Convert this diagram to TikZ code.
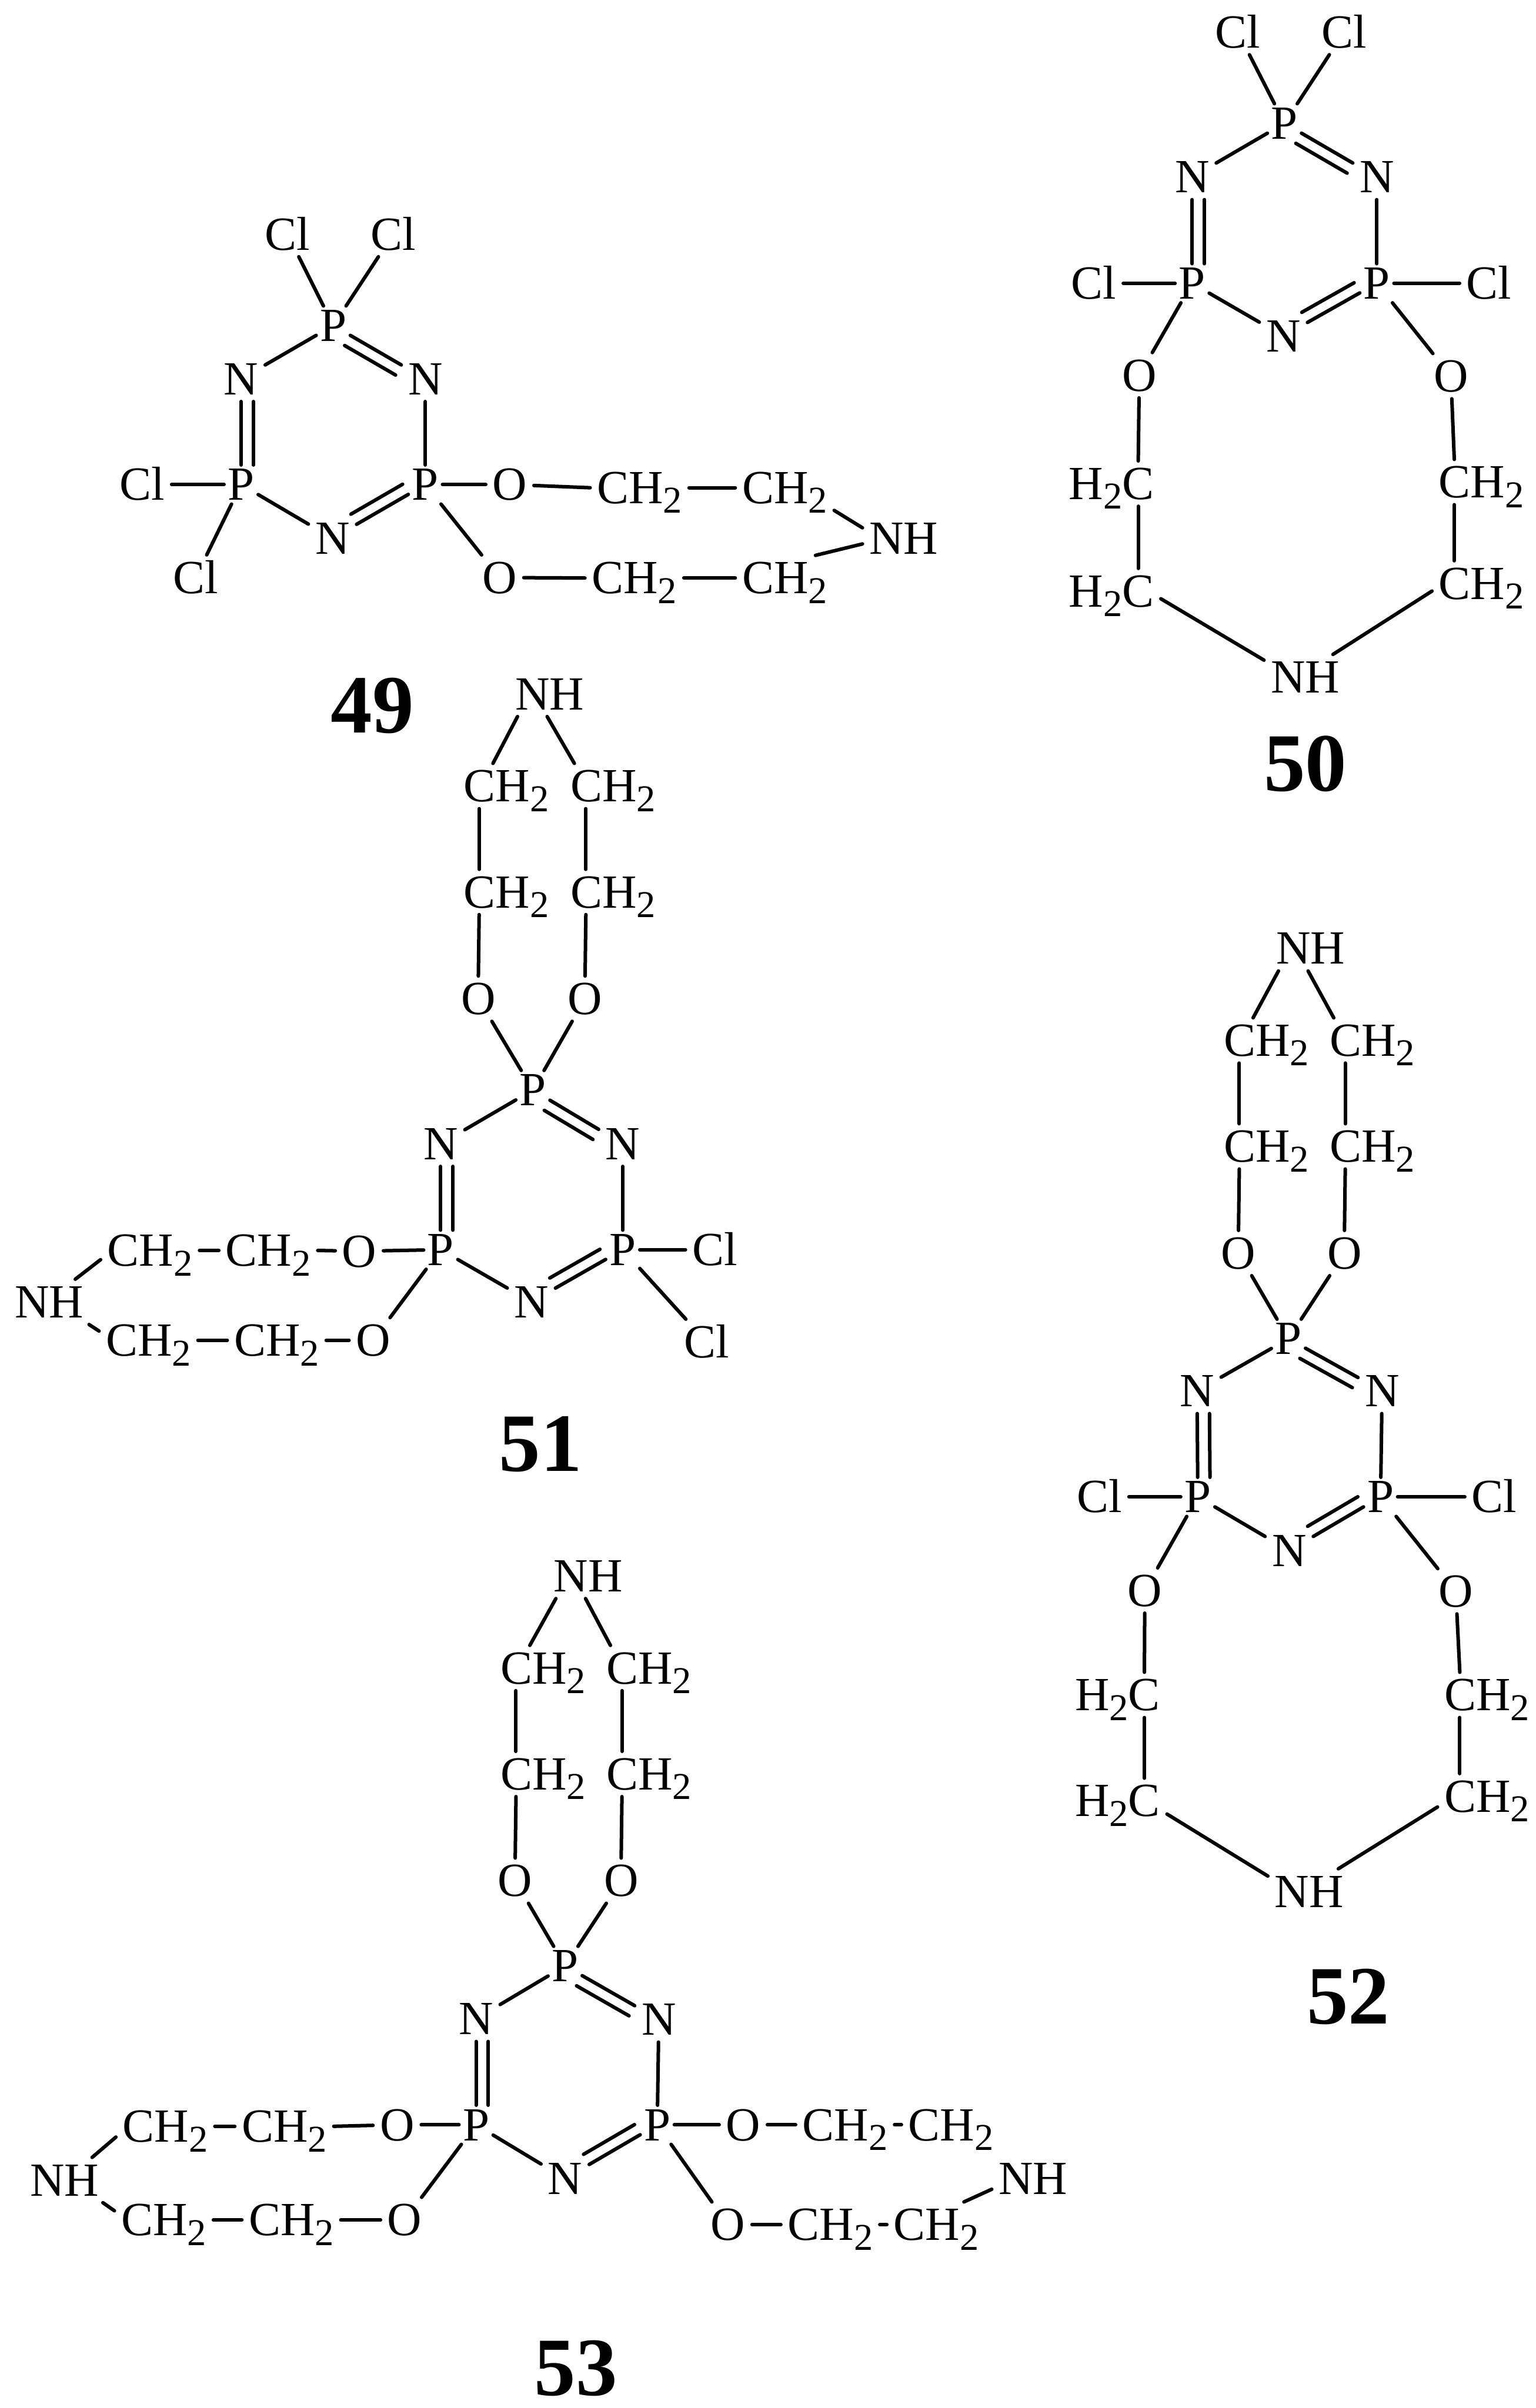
\documentclass[tikz,border=0pt]{standalone}
\usepackage{fontspec}
\setmainfont{Liberation Serif}
\newcommand\subtwo{\raisebox{-6.3pt}{\fontsize{24.7}{24.7}\selectfont 2}}
\newcommand\atmfont{\fontsize{31}{31}\selectfont}
\tikzset{
  atm/.style={inner sep=0pt,outer sep=4.5pt,font=\atmfont,text height=20.5pt,text depth=0pt},
  ptm/.style={atm,outer sep=2.5pt},
  lab/.style={inner sep=0pt,font=\fontsize{54}{54}\selectfont\bfseries,text height=36.5pt,text depth=0pt},
  bond/.style={line width=2.3pt,line cap=round,black}
}
\newcommand\atm[4]{\node[atm] (#1) at (#2,#3) {#4};}
\newcommand\ptm[3]{\node[ptm] (#1) at (#2,#3) {P};}
\newcommand\chgrp[3]{\node[atm,anchor=west] (#1) at ({#2-4.5},#3) {CH\subtwo};}
\newcommand\hcgrp[3]{\node[atm,anchor=west] (#1) at ({#2-4.5},#3) {H\subtwo C};}
\newcommand\bnd[2]{\draw[bond] (#1) -- (#2);}
\newcommand\dbnd[4]{\draw[bond] (#1) -- (#2);\draw[bond,transform canvas={xshift=#3pt,yshift=#4pt}] (#1) -- (#2);}
% the phosphazene ring: P1 top, N1/N2 upper, P2/P3 lower, N3 bottom
\newcommand\ringbonds[1]{%
  \bnd{#1P1}{#1N1}
  \dbnd{#1P1}{#1N2}{-3.7}{-6.6}
  \dbnd{#1N1}{#1P2}{8}{0}
  \bnd{#1N2}{#1P3}
  \bnd{#1P2}{#1N3}
  \dbnd{#1N3}{#1P3}{-3.7}{6.6}
}
% the upright NH(CH2CH2O)2 loop on the top phosphorus
\newcommand\crownloop[5]{%
  \atm{#1H}{#2}{#3}{NH}
  \chgrp{#1u1}{#4}{#3+60}
  \chgrp{#1v1}{#5}{#3+60}
  \chgrp{#1u2}{#4}{#3+129}
  \chgrp{#1v2}{#5}{#3+129}
  \atm{#1Ou}{#4+9.5}{#3+198.5}{O}
  \atm{#1Ov}{#5+9.5}{#3+198.5}{O}
  \bnd{[xshift=-21pt]#1H.south}{[xshift=-8.7pt]#1u1.north}
  \bnd{[xshift=-1.7pt]#1H.south}{[xshift=-25.2pt]#1v1.north}
  \bnd{[xshift=-17.7pt]#1u1.south}{[xshift=-17.7pt]#1u2.north}
  \bnd{[xshift=-17.7pt]#1v1.south}{[xshift=-17.7pt]#1v2.north}
  \bnd{[xshift=-17.7pt]#1u2.south}{#1Ou.north}
  \bnd{[xshift=-17.7pt]#1v2.south}{#1Ov.north}
  \bnd{#1Ou}{#1P1}
  \bnd{#1Ov}{#1P1}
}
\begin{document}
\begin{tikzpicture}[x=1pt,y=-1pt]
\useasboundingbox (0,0) rectangle (1000,1568.5);
% ---------- 49
\ptm{aP1}{217}{212}\ptm{aP2}{157}{315.6}\ptm{aP3}{277}{315.6}
\atm{aN1}{157}{246.8}{N}\atm{aN2}{277}{246.8}{N}\atm{aN3}{216.5}{350.6}{N}
\ringbonds{a}
\atm{aCa}{187.2}{152.5}{Cl}\atm{aCb}{256.1}{152.5}{Cl}\atm{aCc}{92.6}{315.6}{Cl}\atm{aCd}{127.4}{376.2}{Cl}
\bnd{aCa}{aP1}\bnd{aCb}{aP1}\bnd{aCc}{aP2}\bnd{aP2}{aCd}
\atm{aO1}{332}{315.6}{O}\atm{aO2}{325.4}{376.2}{O}
\chgrp{aA1}{388.8}{317.7}\chgrp{aA2}{483.3}{317.7}
\chgrp{aB1}{385.4}{376.5}\chgrp{aB2}{483.3}{376.5}
\atm{aH}{588.5}{350.8}{NH}
\bnd{aP3}{aO1}\bnd{aP3}{aO2}
\bnd{aO1}{aA1.west}\bnd{aA1.east}{aA2.west}
\bnd{aO2}{aB1.west}\bnd{aB1.east}{aB2.west}
\bnd{aA2.south east}{[yshift=7pt]aH.west}
\bnd{[xshift=20pt]aB2.north}{[yshift=-3.5pt]aH.west}
\node[lab] (lab49) at (242.5,459) {49};
% ---------- 50
\ptm{bP1}{836.4}{80.3}\ptm{bP2}{776.3}{184.5}\ptm{bP3}{896.6}{184.5}
\atm{bN1}{776.3}{115.3}{N}\atm{bN2}{896.6}{115.3}{N}\atm{bN3}{835.7}{218.9}{N}
\ringbonds{b}
\atm{bCa}{806.1}{20.9}{Cl}\atm{bCb}{875.3}{20.9}{Cl}\atm{bCc}{712.3}{184.5}{Cl}\atm{bCd}{969.6}{184.5}{Cl}
\bnd{bCa}{bP1}\bnd{bCb}{bP1}\bnd{bCc}{bP2}\bnd{bP3}{bCd}
\atm{bO1}{741.9}{244.4}{O}\atm{bO2}{944.8}{245}{O}
\hcgrp{bA1}{696}{315}\hcgrp{bA2}{696}{385}
\chgrp{bB1}{937}{314}\chgrp{bB2}{937}{380}
\atm{bH}{850}{441}{NH}
\bnd{bP2}{bO1}\bnd{bP3}{bO2}
\bnd{bO1}{[xshift=17.5pt]bA1.north}\bnd{[xshift=17.5pt]bA1.south}{[xshift=17.5pt]bA2.north}
\bnd{bO2}{[xshift=-17.7pt]bB1.north}\bnd{[xshift=-17.7pt]bB1.south}{[xshift=-17.7pt]bB2.north}
\bnd{[yshift=-5pt]bA2.east}{[yshift=11pt]bH.west}
\bnd{[yshift=-5pt]bB2.west}{[xshift=18pt]bH.north}
\node[lab] (lab50) at (850,497) {50};
% ---------- 51
\ptm{cP1}{347}{710}\ptm{cP2}{287}{814}\ptm{cP3}{405.5}{814}
\atm{cN1}{287}{745}{N}\atm{cN2}{405.5}{745}{N}\atm{cN3}{346}{848}{N}
\ringbonds{c}
\crownloop{c}{358}{452}{302}{371.5}
\atm{cCa}{465.5}{814}{Cl}\atm{cCb}{460}{874}{Cl}
\bnd{cP3}{cCa}\bnd{cP3}{cCb}
\atm{cO1}{234}{815}{O}\atm{cO2}{243}{873}{O}
\chgrp{cA2}{147}{814.5}\chgrp{cA1}{70}{814.5}
\chgrp{cB2}{152.5}{873}\chgrp{cB1}{69}{873}
\atm{cH}{32}{848}{NH}
\bnd{cP2}{cO1}\bnd{cP2}{cO2}
\bnd{cO1}{cA2.east}\bnd{cA2.west}{cA1.east}
\bnd{cO2}{cB2.east}\bnd{cB2.west}{cB1.east}
\bnd{[xshift=17pt]cH.north}{[yshift=-6pt]cA1.west}
\bnd{[xshift=26pt]cH.south}{[yshift=6pt]cB1.west}
\node[lab] (lab51) at (352,940) {51};
% ---------- 52
\ptm{dP1}{839}{872}\ptm{dP2}{780}{975}\ptm{dP3}{899}{975}
\atm{dN1}{779.5}{906}{N}\atm{dN2}{900}{906}{N}\atm{dN3}{839.5}{1010}{N}
\ringbonds{d}
\crownloop{d}{853.5}{617.7}{797}{866}
\atm{dCc}{716}{975}{Cl}\atm{dCd}{973}{975}{Cl}
\bnd{dCc}{dP2}\bnd{dP3}{dCd}
\atm{dO1}{745.5}{1036}{O}\atm{dO2}{948}{1036.5}{O}
\hcgrp{dA1}{700}{1104}\hcgrp{dA2}{700}{1173}
\chgrp{dB1}{940.6}{1104}\chgrp{dB2}{940.6}{1170}
\atm{dH}{852.5}{1232}{NH}
\bnd{dP2}{dO1}\bnd{dP3}{dO2}
\bnd{dO1}{[xshift=17.5pt]dA1.north}\bnd{[xshift=17.5pt]dA1.south}{[xshift=17.5pt]dA2.north}
\bnd{dO2}{[xshift=-17.7pt]dB1.north}\bnd{[xshift=-17.7pt]dB1.south}{[xshift=-17.7pt]dB2.north}
\bnd{[yshift=-8.6pt]dA2.east}{[yshift=10pt]dH.west}
\bnd{[yshift=-7pt]dB2.west}{[xshift=19pt]dH.north}
\node[lab] (lab52) at (878,1300) {52};
% ---------- 53
\ptm{eP1}{368}{1280.5}\ptm{eP2}{310}{1384}\ptm{eP3}{428}{1384}
\atm{eN1}{310}{1315}{N}\atm{eN2}{429}{1315.4}{N}\atm{eN3}{368}{1419}{N}
\ringbonds{e}
\crownloop{e}{383}{1026.5}{326}{395}
\atm{eO1}{258.6}{1384}{O}\atm{eO2}{263.5}{1446}{O}
\chgrp{eA2}{157.4}{1385}\chgrp{eA1}{80}{1385}
\chgrp{eB2}{162}{1446}\chgrp{eB1}{79}{1446}
\atm{eH}{42}{1420}{NH}
\bnd{eP2}{eO1}\bnd{eP2}{eO2}
\bnd{eO1}{eA2.east}\bnd{eA2.west}{eA1.east}
\bnd{eO2}{eB2.east}\bnd{eB2.west}{eB1.east}
\bnd{[xshift=18pt]eH.north}{[yshift=-7pt]eA1.west}
\bnd{[xshift=25pt]eH.south}{[yshift=6pt]eB1.west}
\atm{eO3}{484}{1384}{O}\atm{eO4}{474}{1449}{O}
\chgrp{eC1}{522.6}{1384}\chgrp{eC2}{591.5}{1384}
\chgrp{eD1}{513}{1449}\chgrp{eD2}{582}{1449}
\atm{eJ}{672.7}{1419}{NH}
\bnd{eP3}{eO3}\bnd{eP3}{eO4}
\bnd{eO3}{eC1.west}\bnd{eC1.east}{eC2.west}
\bnd{eO4}{eD1.west}\bnd{eD1.east}{eD2.west}
\bnd{[xshift=18pt]eD2.north}{[yshift=-7pt]eJ.west}
\node[lab] (lab53) at (375,1542) {53};
\end{tikzpicture}
\end{document}
